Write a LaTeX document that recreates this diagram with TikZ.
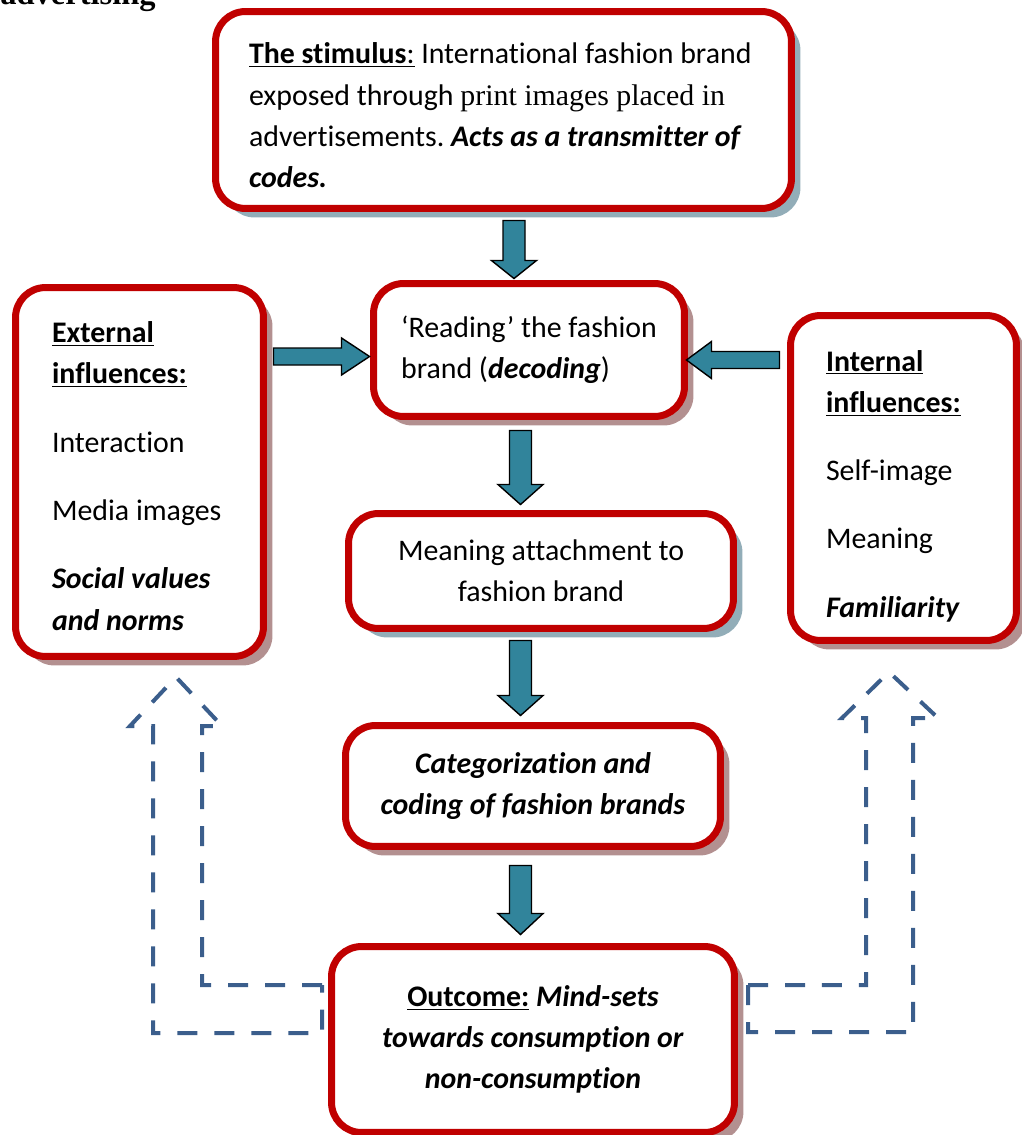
\documentclass[tikz,border=0pt]{standalone}
\usepackage{fontspec}
\setmainfont{Carlito}[Ligatures={TeX,NoCommon}]
\newfontfamily\timesfont{Liberation Serif}
\usetikzlibrary{calc,shadows}
\definecolor{boxred}{HTML}{C00000}
\definecolor{arrowteal}{HTML}{31849B}
\definecolor{shadeblue}{HTML}{92ADB8}
\definecolor{shaderose}{HTML}{B39090}
\definecolor{dashblue}{HTML}{3B5E8C}

% plain word spacing inside the boxes
\newcommand{\wordsp}{\spaceskip=0pt\xspaceskip=0pt\frenchspacing}

% block arrow: start, tip, half shaft, half head, head length
\newcommand{\blockarrow}[5]{%
  \draw[flowarrow] let \p1=#1, \p2=#2, \p3=($(\p2)!#5!(\p1)$) in
    ($(\p1)!#3!90:(\p2)$) -- ($(\p3)!#3!90:(\p2)$) -- ($(\p3)!#4!90:(\p2)$) -- (\p2)
    -- ($(\p3)!#4!-90:(\p2)$) -- ($(\p3)!#3!-90:(\p2)$) -- ($(\p1)!#3!-90:(\p2)$) -- cycle;}

\begin{document}
\begin{tikzpicture}[x=0.02cm,y=-0.02cm,
    stagebox/.style={draw=boxred, line width=0.14cm, fill=white, rounded corners=0.6cm,
      inner sep=0pt, font=\fontsize{17}{23.5}\selectfont},
    blueshade/.style={drop shadow={shadow xshift=0.18cm, shadow yshift=-0.18cm, fill=shadeblue, opacity=1}},
    roseshade/.style={drop shadow={shadow xshift=0.18cm, shadow yshift=-0.18cm, fill=shaderose, opacity=1}},
    flowarrow/.style={fill=arrowteal, draw=black, line width=0.8pt, line join=miter},
    feedback/.style={draw=dashblue, line width=0.08cm, dash pattern=on 0.4cm off 0.34cm}]
    \useasboundingbox (0,0) rectangle (1021,1135);
    %Caption
    \node[anchor=base west, inner sep=0pt, font=\timesfont\bfseries\fontsize{18.5}{20}\selectfont] (caption) at (0,5) {advertising};
    %Boxes
    \node[stagebox, blueshade, minimum width=11.52cm, minimum height=3.94cm, text width=10.18cm, align=left] (stim) at (503.5,110)
      {\wordsp\rule{0pt}{18pt}%
       \underline{\textbf{The stimulus}:} International fashion brand\\
       exposed through {\timesfont print images placed in}\\
       advertisements. \textbf{\textit{Acts as a transmitter of}}\\
       \textbf{\textit{codes.}}};
    \node[stagebox, roseshade, minimum width=6.22cm, minimum height=2.66cm, align=left] (read) at (529,350)
      {\wordsp `Reading' the fashion\\ \wordsp brand (\textbf{\textit{decoding}})};
    \node[stagebox, roseshade, minimum width=4.96cm, minimum height=7.38cm, text width=3.5cm, align=left] (ext) at (139.5,472)
      {\wordsp\rule{0pt}{16.5pt}%
       \underline{\textbf{External}}\\ \underline{\textbf{influences:}}\\[0.54cm]
       Interaction\\[0.54cm] Media images\\[0.54cm]
       \textbf{\textit{Social values}}\\ \textbf{\textit{and norms}}};
    \node[stagebox, roseshade, minimum width=4.52cm, minimum height=6.5cm, text width=3.1cm, align=left] (int) at (903.5,478)
      {\wordsp\rule{0pt}{21pt}%
       \underline{\textbf{Internal}}\\ \underline{\textbf{influences:}}\\[0.54cm]
       Self-image\\[0.54cm] Meaning\\[0.54cm] \textbf{\textit{Familiarity}}};
    \node[stagebox, blueshade, minimum width=7.7cm, minimum height=2.3cm, align=center] (mean) at (541,571)
      {\wordsp Meaning attachment to\\ \wordsp fashion brand};
    \node[stagebox, roseshade, minimum width=7.5cm, minimum height=2.42cm, align=center] (cat) at (533,786)
      {\wordsp\textbf{\textit{Categorization and}}\\ \wordsp\textbf{\textit{coding of fashion brands}}};
    \node[stagebox, roseshade, minimum width=8.06cm, minimum height=3.72cm, align=center] (out) at (533,1039.5)
      {\wordsp\underline{\textbf{Outcome:}} \textbf{\textit{Mind-sets}}\\
       \wordsp\textbf{\textit{towards consumption or}}\\ \wordsp\textbf{\textit{non-consumption}}};
    %Feedback arrows
    \draw[feedback] (322,985) -- (202,985) -- (202,726) -- (222,726) -- (176,677) -- (130,726)
      -- (153,726) -- (153,1033) -- (322,1033) -- cycle;
    \draw[feedback] (748,985) -- (866,985) -- (866,718) -- (842,718) -- (889,672) -- (938,718)
      -- (913,718) -- (913,1032) -- (748,1032) -- cycle;
    %Flow arrows
    \blockarrow{($(stim.south)+(10.5,8.5)$)}{($(read.north)+(-15,-1.5)$)}{0.22cm}{0.45cm}{0.36cm}
    \blockarrow{($(read.south)+(-8.5,10.5)$)}{($(mean.north)+(-20.5,-5.5)$)}{0.22cm}{0.45cm}{0.4cm}
    \blockarrow{($(mean.south)+(-20.5,8.5)$)}{($(cat.north)+(-12.5,-6.5)$)}{0.22cm}{0.45cm}{0.4cm}
    \blockarrow{($(cat.south)+(-12.5,15.5)$)}{($(out.north)+(-12.5,-8.5)$)}{0.22cm}{0.45cm}{0.42cm}
    \blockarrow{($(ext.east)+(6.5,-115.5)$)}{($(read.west)+(-0.5,6.5)$)}{0.17cm}{0.37cm}{0.56cm}
    \blockarrow{($(int.west)+(-7.5,-118)$)}{($(read.east)+(-1.5,10)$)}{0.17cm}{0.37cm}{0.5cm}
\end{tikzpicture}
\end{document}
